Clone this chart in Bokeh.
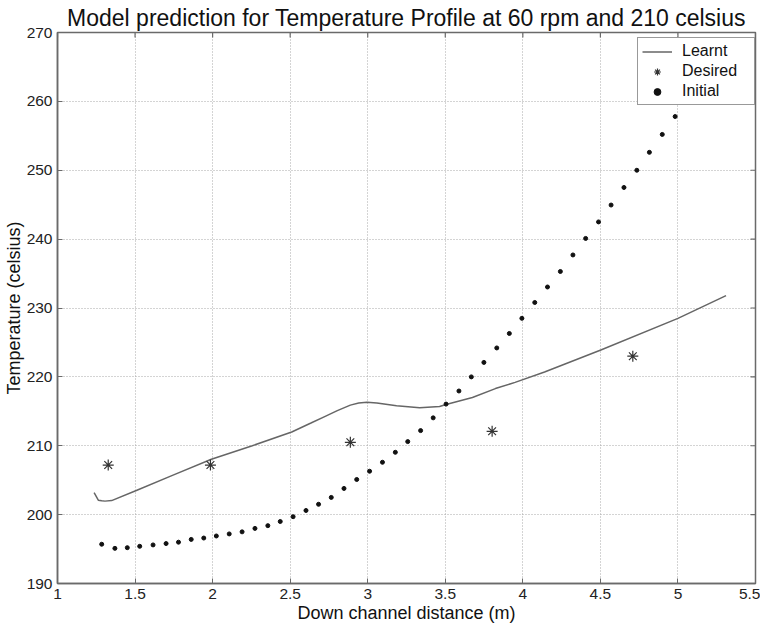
from bokeh.plotting import figure
from bokeh.models import Range1d, FixedTicker, Legend, LegendItem
from bokeh.embed import file_html
from bokeh.resources import INLINE

# ---- data ----
learnt_x = [1.236, 1.263, 1.285, 1.306, 1.349, 1.508, 1.741, 1.992, 2.251, 2.51, 2.634, 2.719,
            2.804, 2.888, 2.942, 2.995, 3.059, 3.186, 3.335, 3.463, 3.505, 3.675, 3.823, 3.95,
            4.14, 4.503, 5.0, 5.31]
learnt_y = [203.2, 202.1, 202.0, 201.96, 202.04, 203.5, 205.7, 208.04, 209.96, 212.0, 213.3, 214.2,
            215.1, 215.9, 216.2, 216.3, 216.2, 215.8, 215.5, 215.7, 216.0, 217.0, 218.3, 219.2,
            220.7, 223.9, 228.5, 231.8]

desired_x = [1.327, 1.986, 2.888, 3.802, 4.709]
desired_y = [207.2, 207.2, 210.5, 212.1, 223.0]

initial_x = [1.285, 1.37, 1.45, 1.53, 1.616, 1.70, 1.78, 1.862, 1.943, 2.024,
             2.107, 2.19, 2.273, 2.356, 2.436, 2.519, 2.602, 2.683, 2.765, 2.847,
             2.929, 3.012, 3.095, 3.178, 3.258, 3.341, 3.422, 3.505, 3.588, 3.668,
             3.749, 3.832, 3.913, 3.994, 4.077, 4.159, 4.242, 4.323, 4.405, 4.488,
             4.569, 4.652, 4.735, 4.816, 4.899, 4.982, 5.065, 5.147, 5.23, 5.31]
initial_y = [195.7, 195.1, 195.2, 195.4, 195.6, 195.8, 196.0, 196.4, 196.6, 196.9,
             197.2, 197.5, 198.0, 198.4, 199.0, 199.7, 200.6, 201.5, 202.5, 203.8,
             205.1, 206.3, 207.6, 209.05, 210.6, 212.2, 214.05, 216.05, 217.95, 220.0,
             222.1, 224.2, 226.3, 228.5, 230.8, 233.05, 235.3, 237.7, 240.1, 242.5,
             244.95, 247.5, 250.0, 252.6, 255.2, 257.8, 260.5, 263.2, 265.9, 268.6]

x_ticks = [1, 1.5, 2, 2.5, 3, 3.5, 4, 4.5, 5, 5.5]
x_tick_labels = ["1", "1.5", "2", "2.5", "3", "3.5", "4", "4.5", "5", "5.5"]
y_ticks = [190, 200, 210, 220, 230, 240, 250, 260, 270]

title_text = "Model prediction for Temperature Profile at 60 rpm and 210 celsius"
x_label = "Down channel distance (m)"
y_label = "Temperature (celsius)"

FONT = "Liberation Sans"
AXIS_COLOR = "#6a6a6a"
X0, X1, Y0, Y1 = 1, 5.5, 190, 270

p = figure(width=760, height=625, output_backend="svg", toolbar_location=None,
           x_range=Range1d(X0, X1), y_range=Range1d(Y0, Y1), title=title_text,
           min_border_left=0, min_border_right=5, min_border_top=0, min_border_bottom=0)
p.outline_line_color = AXIS_COLOR
p.outline_line_width = 1.5
p.background_fill_color = "white"
p.border_fill_color = "white"

p.title.align = "center"
p.title.text_font = FONT
p.title.text_font_size = "23px"
p.title.text_font_style = "normal"
p.title.text_color = "#111111"
p.title.standoff = 4
p.title.offset = 8

for ax in (p.xaxis[0], p.yaxis[0]):
    ax.major_label_text_font = FONT
    ax.major_label_text_font_size = "15.5px"
    ax.major_label_text_color = "#222222"
    ax.axis_label_text_font = FONT
    ax.axis_label_text_font_size = "18px"
    ax.axis_label_text_font_style = "normal"
    ax.axis_label_text_color = "#111111"
    ax.axis_line_color = AXIS_COLOR
    ax.axis_line_width = 1.5
    ax.major_tick_line_color = AXIS_COLOR
    ax.major_tick_in = 5
    ax.major_tick_out = 0
    ax.minor_tick_line_color = None

p.xaxis[0].ticker = FixedTicker(ticks=x_ticks)
p.xaxis[0].major_label_overrides = dict(zip([float(v) for v in x_ticks], x_tick_labels))
p.xaxis[0].axis_label = x_label
p.xaxis[0].axis_label_standoff = 1
p.xaxis[0].major_label_standoff = 5
p.yaxis[0].ticker = FixedTicker(ticks=y_ticks)
p.yaxis[0].axis_label = y_label
p.yaxis[0].axis_label_standoff = 0
p.yaxis[0].major_label_standoff = 5

for g in (p.xgrid[0], p.ygrid[0]):
    g.grid_line_color = "#a8a8a8"
    g.grid_line_dash = "1 2"
    g.grid_line_width = 1
p.xgrid[0].ticker = FixedTicker(ticks=x_ticks)
p.ygrid[0].ticker = FixedTicker(ticks=y_ticks)

# inward ticks on the top and right edges of the box
tick_len_x = (X1 - X0) * 5 / 700
tick_len_y = (Y1 - Y0) * 5 / 550
p.segment(x0=x_ticks, y0=[Y1] * len(x_ticks), x1=x_ticks, y1=[Y1 - tick_len_y] * len(x_ticks),
          line_color=AXIS_COLOR, line_width=1.2)
p.segment(x0=[X1] * len(y_ticks), y0=y_ticks, x1=[X1 - tick_len_x] * len(y_ticks), y1=y_ticks,
          line_color=AXIS_COLOR, line_width=1.2)

r_learnt = p.line(learnt_x, learnt_y, line_color="#666666", line_width=1.5)
r_desired = p.scatter(desired_x, desired_y, marker="asterisk", size=11,
                      line_color="#333333", line_width=1.2)
r_initial = p.scatter(initial_x, initial_y, marker="circle", size=4,
                      fill_color="#111111", line_color="#111111")

legend = Legend(items=[LegendItem(label="Learnt", renderers=[r_learnt]),
                       LegendItem(label="Desired", renderers=[r_desired]),
                       LegendItem(label="Initial", renderers=[r_initial])],
                location=(580, 478), orientation="vertical",
                label_text_font=FONT, label_text_font_size="16px", label_text_color="#111111",
                border_line_color="#333333", border_line_width=1, background_fill_color="white",
                background_fill_alpha=1, glyph_width=30, glyph_height=17, label_height=17,
                label_width=68, spacing=2, padding=4, margin=0, label_standoff=10)
p.add_layout(legend, "center")

open("out.html", "w").write(file_html(p, INLINE))
